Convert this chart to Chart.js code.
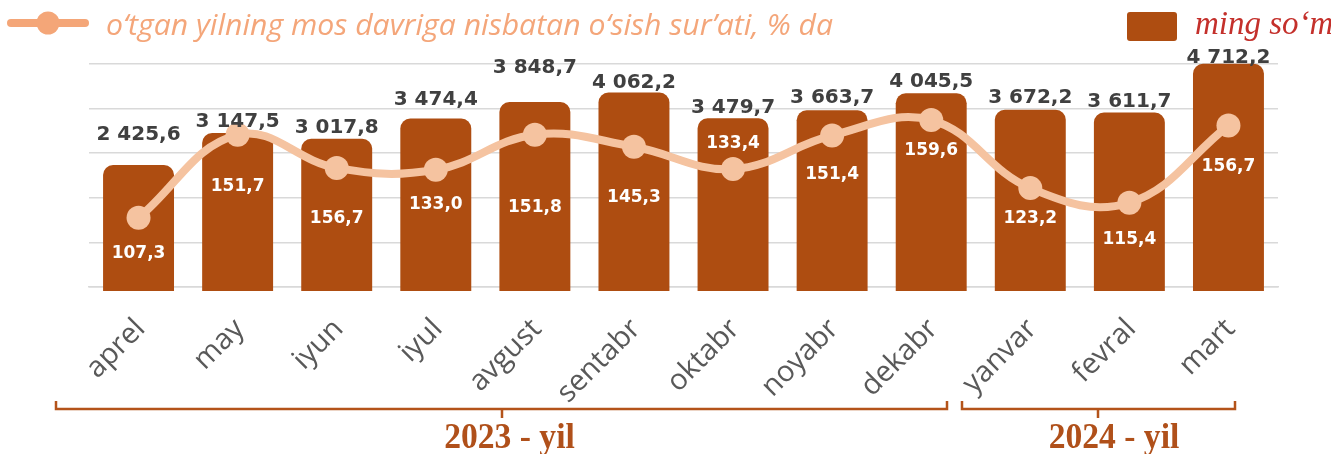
<!DOCTYPE html>
<html>
<head>
<meta charset="utf-8">
<script src="https://cdn.jsdelivr.net/npm/chart.js@4.4.1/dist/chart.umd.min.js"></script>
<style>
  html, body { margin: 0; padding: 0; background: #fff; }
  #wrap { width: 1331px; height: 454px; position: relative; }
</style>
</head>
<body>
<div id="wrap"><canvas id="chart"></canvas></div>
<script>
// months
var months = ['aprel', 'may', 'iyun', 'iyul', 'avgust', 'sentabr', 'oktabr', 'noyabr', 'dekabr', 'yanvar', 'fevral', 'mart'];
// ming so'm (bars)
var income = [2425.6, 3147.5, 3017.8, 3474.4, 3848.7, 4062.2, 3479.7, 3663.7, 4045.5, 3672.2, 3611.7, 4712.2];
// growth rate, % (line) - iyun point is drawn lower than its label in the source
var rate = [107.3, 151.7, 134.0, 133.0, 151.8, 145.3, 133.4, 151.4, 159.6, 123.2, 115.4, 156.7];
var rateText = ['107,3', '151,7', '156,7', '133,0', '151,8', '145,3', '133,4', '151,4', '159,6', '123,2', '115,4', '156,7'];
var years = ['2023 - yil', '2024 - yil'];

var barColor = '#AE4D11';
var lineColor = '#F5C3A0';

// label nudges (px), like the hand placed labels in the original
var barLabelLift = [30, 11, 11, 19, 34, 10, 11, 12, 12, 12, 11, 6];
var rateLabelDrop = [36, 52, 51, 35, 73, 51, -25, 39, 31, 30, 37, 41];

function fmt(v) {
    var p = v.toFixed(1).split('.');
    return p[0].replace(/\B(?=(\d{3})+(?!\d))/g, ' ') + ',' + p[1];
}

var extras = {
    id: 'extras',
    afterDraw: function (chart) {
        var ctx = chart.ctx;
        var pts = chart.getDatasetMeta(0).data;
        var bars = chart.getDatasetMeta(1).data;
        ctx.save();
        ctx.textAlign = 'center';
        ctx.textBaseline = 'middle';

        // values over bars
        ctx.font = 'bold 20px "DejaVu Sans"';
        ctx.fillStyle = '#404040';
        for (var i = 0; i < bars.length; i++) {
            ctx.fillText(fmt(income[i]), bars[i].x, bars[i].y - barLabelLift[i]);
        }
        // rate values
        ctx.font = 'bold 17px "DejaVu Sans"';
        ctx.fillStyle = '#ffffff';
        for (var j = 0; j < pts.length; j++) {
            ctx.fillText(rateText[j], pts[j].x, pts[j].y + rateLabelDrop[j]);
        }

        // year brackets
        ctx.strokeStyle = '#B4531A';
        ctx.lineWidth = 2.5;
        ctx.beginPath();
        ctx.moveTo(56, 401); ctx.lineTo(56, 409); ctx.lineTo(947, 409); ctx.lineTo(947, 401);
        ctx.moveTo(502, 409); ctx.lineTo(502, 418);
        ctx.moveTo(962, 401); ctx.lineTo(962, 409); ctx.lineTo(1235, 409); ctx.lineTo(1235, 401);
        ctx.moveTo(1098, 409); ctx.lineTo(1098, 418);
        ctx.stroke();
        ctx.textBaseline = 'alphabetic';
        ctx.font = 'bold 35px "Liberation Serif"';
        ctx.fillStyle = '#B0501A';
        [[years[0], 509.5], [years[1], 1114]].forEach(function (y) {
            ctx.save();
            ctx.translate(y[1], 448);
            ctx.scale(0.96, 1);
            ctx.fillText(y[0], 0, 0);
            ctx.restore();
        });

        // legend: line series
        ctx.strokeStyle = '#F4A678';
        ctx.lineWidth = 8;
        ctx.lineCap = 'round';
        ctx.beginPath();
        ctx.moveTo(11, 23); ctx.lineTo(85, 23);
        ctx.stroke();
        ctx.fillStyle = '#F4A678';
        ctx.beginPath();
        ctx.arc(48, 23, 11.5, 0, Math.PI * 2);
        ctx.fill();
        ctx.textAlign = 'left';
        ctx.font = 'italic 30px "Open Sans"';
        ctx.fillStyle = '#F4A67A';
        var txt = 'o‘tgan yilning mos davriga nisbatan o‘sish sur’ati, % da';
        var w = ctx.measureText(txt).width;
        ctx.save();
        ctx.translate(106, 35);
        ctx.scale(727 / w, 1);
        ctx.fillText(txt, 0, 0);
        ctx.restore();

        // legend: bars
        ctx.fillStyle = barColor;
        ctx.beginPath();
        ctx.roundRect(1127, 12, 50, 29, 3);
        ctx.fill();
        ctx.font = 'italic 33px "Liberation Serif"';
        ctx.fillStyle = '#C4302B';
        ctx.fillText('ming so‘m', 1195, 34);
        ctx.restore();
    }
};

var ctx = document.getElementById('chart');
var chart = new Chart(ctx, {
    type: 'bar',
    data: {
        labels: months,
        datasets: [
            {
                type: 'line',
                label: 'o‘tgan yilning mos davriga nisbatan o‘sish sur’ati, % da',
                data: rate,
                yAxisID: 'y2',
                borderColor: lineColor,
                backgroundColor: lineColor,
                borderWidth: 8,
                pointRadius: 12,
                pointBorderWidth: 0,
                tension: 0.4,
                fill: false,
                order: 0
            },
            {
                type: 'bar',
                label: 'ming so‘m',
                data: income,
                yAxisID: 'y',
                backgroundColor: barColor,
                borderRadius: { topLeft: 10, topRight: 10 },
                borderSkipped: 'start',
                barPercentage: 0.716,
                categoryPercentage: 1,
                base: -420,
                clip: false,
                order: 1
            }
        ]
    },
    options: {
        responsive: true,
        maintainAspectRatio: false,
        animation: false,
        layout: { padding: { left: 89, right: 53, top: 64, bottom: 0 } },
        plugins: {
            legend: { display: false },
            tooltip: { enabled: false }
        },
        scales: {
            x: {
                z: 1,
                grid: { display: false },
                border: { display: true, color: '#D9D9D9', width: 1.5 },
                ticks: {
                    autoSkip: false,
                    minRotation: 45,
                    maxRotation: 45,
                    padding: 17,
                    labelOffset: 2,
                    color: '#595959',
                    font: { family: 'Open Sans', size: 29 }
                },
                afterFit: function (s) { s.height = 167; }
            },
            g: {
                position: 'left',
                min: 0,
                max: 5,
                ticks: { display: false, stepSize: 1 },
                grid: { color: '#D9D9D9', lineWidth: 1.5, drawTicks: false },
                border: { display: false },
                afterFit: function (s) { s.width = 0; }
            },
            y: { display: false, min: -327, max: 4707 },
            y2: { display: false, min: 70.3, max: 189.6 }
        }
    },
    plugins: [extras]
});
</script>
</body>
</html>
